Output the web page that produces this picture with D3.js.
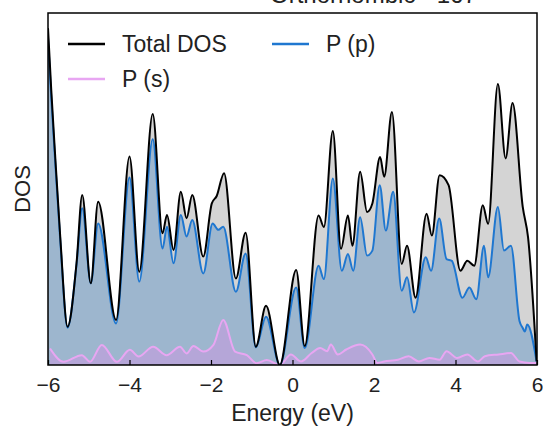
<!DOCTYPE html>
<html>
<head>
<meta charset="utf-8">
<script src="https://cdn.jsdelivr.net/npm/d3@7"></script>
<style>
  body { margin: 0; background: #fff; }
  text { font-family: "Liberation Sans", Arial, sans-serif; fill: #222; }
</style>
</head>
<body>
<div id="chart"></div>
<script>
// energies (eV) and DOS
var totalE = [-6.0, -5.92, -5.83, -5.70, -5.52, -5.30, -5.16, -4.95, -4.77, -4.33, -4.00, -3.76, -3.43, -3.19, -3.08,
  -2.92, -2.74, -2.60, -2.46, -2.19, -1.98, -1.86, -1.68, -1.39, -1.15, -0.90, -0.65, -0.31, 0.09, 0.30, 0.64, 0.77,
  0.99, 1.19, 1.36, 1.47, 1.66, 1.83, 1.96, 2.15, 2.25, 2.44, 2.68, 2.81, 3.02, 3.29, 3.42, 3.61, 3.83, 4.12,
  4.29, 4.46, 4.67, 4.80, 5.04, 5.23, 5.40, 5.65, 5.78, 5.99];
var totalDos = [9.57, 7.81, 6.06, 3.65, 1.09, 2.89, 4.83, 2.32, 4.64, 1.28, 5.92, 2.65, 7.13, 3.74, 4.26,
  3.27, 4.92, 4.17, 4.83, 3.08, 4.59, 4.80, 5.45, 2.46, 3.76, 0.52, 1.68, 0.0, 2.70, 0.54, 4.25, 3.92,
  6.65, 3.30, 4.25, 3.39, 5.49, 4.35, 4.59, 5.91, 5.35, 7.19, 2.87, 3.39, 1.91, 4.30, 3.68, 5.39, 5.11, 2.68,
  2.96, 2.82, 4.54, 4.01, 7.98, 5.87, 7.44, 4.49, 3.63, 0.11];

var pE = [-6.0, -5.92, -5.83, -5.70, -5.52, -5.30, -5.16, -4.95, -4.77, -4.33, -4.00, -3.76, -3.43, -3.19, -3.08,
  -2.92, -2.74, -2.60, -2.46, -2.19, -1.96, -1.82, -1.70, -1.39, -1.15, -0.90, -0.65, -0.31, 0.09, 0.30, 0.64, 0.77,
  0.99, 1.21, 1.36, 1.49, 1.66, 1.83, 1.96, 2.14, 2.29, 2.47, 2.68, 2.81, 2.98, 3.27, 3.40, 3.60, 3.78, 3.91,
  4.17, 4.34, 4.51, 4.70, 4.80, 5.04, 5.19, 5.36, 5.57, 5.65, 5.70, 5.76, 5.99];
var pDos = [9.3, 7.6, 5.9, 3.55, 1.06, 2.85, 4.45, 2.32, 4.02, 1.18, 5.33, 2.37, 6.41, 3.31, 3.93,
  2.89, 4.26, 3.65, 4.12, 2.60, 4.02, 3.84, 3.93, 2.08, 3.17, 0.50, 1.37, 0.0, 2.20, 0.48, 2.82, 2.44,
  5.30, 2.68, 3.15, 2.68, 4.20, 3.11, 3.25, 5.11, 3.82, 4.92, 2.11, 2.49, 1.49, 3.06, 2.68, 4.16, 3.01, 2.96,
  1.91, 2.20, 1.87, 3.39, 2.49, 4.49, 3.25, 3.39, 1.25, 1.05, 0.95, 1.15, 0.1];

var sE = [-5.95, -5.62, -5.17, -4.97, -4.68, -4.31, -3.99, -3.78, -3.42, -3.09, -2.76, -2.60, -2.43, -2.19, -1.94,
  -1.70, -1.41, -1.12, -0.88, -0.63, -0.31, -0.04, 0.21, 0.47, 0.68, 0.85, 0.94, 1.11,
  1.32, 1.66, 1.96, 2.08, 2.25, 2.59, 2.85, 3.10, 3.36, 3.61, 3.78, 4.04, 4.29, 4.55, 4.72, 5.06, 5.36, 5.57,
  5.82, 5.99];
var sDos = [0.47, 0.09, 0.28, 0.09, 0.57, 0.09, 0.43, 0.24, 0.52, 0.28, 0.52, 0.33, 0.54, 0.38, 0.57,
  1.28, 0.38, 0.28, 0.05, 0.14, 0.0, 0.30, 0.10, 0.34, 0.48, 0.39, 0.58, 0.30,
  0.44, 0.58, 0.30, 0.06, 0.10, 0.15, 0.25, 0.10, 0.20, 0.15, 0.39, 0.20, 0.30, 0.10, 0.25, 0.30, 0.34, 0.10,
  0.06, 0.06];

var xTicks = [-6, -4, -2, 0, 2, 4, 6];
var seriesNames = ["Total DOS", "P (p)", "P (s)"];

var W = 543, H = 426;
var margin = {top: 13, right: 6, bottom: 61, left: 48},
    width = W - margin.left - margin.right,
    height = H - margin.top - margin.bottom;

var svg = d3.select("#chart").append("svg")
    .attr("width", W)
    .attr("height", H);

// title, mostly cut off at the top edge
svg.append("text")
    .attr("x", 270)
    .attr("y", 3)
    .style("font-size", "24px")
    .text("Orthorhombic - 167");

var g = svg.append("g")
    .attr("transform", "translate(" + margin.left + "," + margin.top + ")");

var x = d3.scaleLinear().domain([-6, 6]).range([0, width]);
var y = d3.scaleLinear().domain([0, 10]).range([height, 0]);

function pts(es, vs) {
  return es.map(function(e, i) { return [e, vs[i]]; });
}

var series = [
  {name: seriesNames[0], data: pts(totalE, totalDos), line: "#000000", fill: "#d4d4d4", op: 1},
  {name: seriesNames[1], data: pts(pE, pDos), line: "#1f77d0", fill: "#1f6fc0", op: 0.3},
  {name: seriesNames[2], data: pts(sE, sDos), line: "#e8a6f2", fill: "#ee82ee", op: 0.3}
];

g.append("defs").append("clipPath")
    .attr("id", "clip")
  .append("rect")
    .attr("width", width)
    .attr("height", height);

var area = d3.area()
    .curve(d3.curveMonotoneX)
    .x(function(d) { return x(d[0]); })
    .y0(y(0))
    .y1(function(d) { return y(d[1]); });

var line = d3.line()
    .curve(d3.curveMonotoneX)
    .x(function(d) { return x(d[0]); })
    .y(function(d) { return y(d[1]); });

var plot = g.append("g").attr("clip-path", "url(#clip)");

plot.selectAll("path.area")
    .data(series).enter()
  .append("path")
    .attr("class", "area")
    .attr("d", function(d) { return area(d.data); })
    .style("fill", function(d) { return d.fill; })
    .style("fill-opacity", function(d) { return d.op; });

plot.selectAll("path.line")
    .data(series.slice().reverse()).enter()
  .append("path")
    .attr("class", "line")
    .attr("d", function(d) { return line(d.data); })
    .style("fill", "none")
    .style("stroke", function(d) { return d.line; })
    .style("stroke-width", 2);

// x axis with inward ticks
var xAxis = g.append("g")
    .attr("transform", "translate(0," + height + ")")
    .call(d3.axisBottom(x).tickValues(xTicks).tickSizeInner(-5).tickSizeOuter(0).tickPadding(12)
      .tickFormat(function(d) { return d < 0 ? "\u2212" + Math.abs(d) : d; }));
xAxis.select(".domain").remove();
xAxis.selectAll("line").style("stroke", "#000").style("stroke-width", 1.2);
xAxis.selectAll("text")
    .style("font-size", "21px")
    .style("font-family", "'Liberation Sans', Arial, sans-serif")
    .attr("fill", "#222");

// frame
g.append("rect")
    .attr("width", width)
    .attr("height", height)
    .style("fill", "none")
    .style("stroke", "#000")
    .style("stroke-width", 1.5);

svg.append("text")
    .attr("x", margin.left + width / 2)
    .attr("y", 421)
    .attr("text-anchor", "middle")
    .style("font-size", "23px")
    .text("Energy (eV)");

svg.append("text")
    .attr("transform", "translate(30," + (margin.top + height / 2) + ") rotate(-90)")
    .attr("text-anchor", "middle")
    .style("font-size", "22px")
    .text("DOS");

// legend
var legendPos = [[68, 44], [272, 44], [68, 79]];
var legend = svg.selectAll("g.legend")
    .data(series).enter()
  .append("g")
    .attr("class", "legend")
    .attr("transform", function(d, i) { return "translate(" + legendPos[i][0] + "," + legendPos[i][1] + ")"; });
legend.append("line")
    .attr("x1", 0).attr("x2", 37)
    .style("stroke", function(d) { return d.line; })
    .style("stroke-width", 2.5);
legend.append("text")
    .attr("x", 54)
    .attr("y", 8)
    .style("font-size", "23px")
    .text(function(d) { return d.name; });
</script>
</body>
</html>
